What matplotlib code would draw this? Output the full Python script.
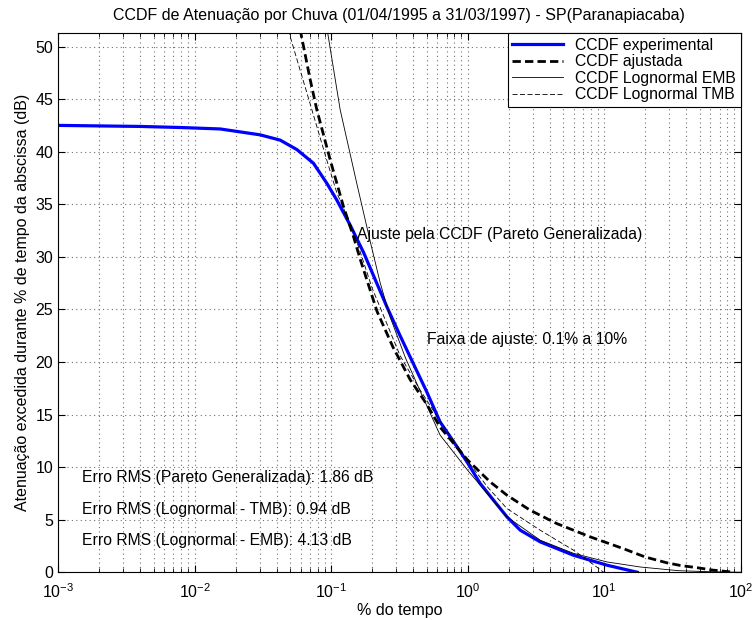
import matplotlib
matplotlib.use("Agg")
import matplotlib.pyplot as plt
from matplotlib.ticker import LogLocator, NullFormatter, MultipleLocator

plt.rcParams["font.family"] = ["Liberation Sans", "DejaVu Sans"]
plt.rcParams["mathtext.fontset"] = "custom"
plt.rcParams["mathtext.rm"] = "Liberation Sans"
plt.rcParams["font.size"] = 11.3

# CCDF experimental (% do tempo, dB)
exp_x = [0.001, 0.002, 0.004, 0.0078, 0.0154, 0.0302, 0.0423, 0.0561, 0.0742, 0.0929,
         0.110, 0.138, 0.173, 0.257, 0.32, 0.398, 0.5, 0.628, 0.8, 1.0,
         1.235, 1.546, 1.94, 2.43, 3.4, 5.96, 10.5, 17.5]
exp_y = [42.5, 42.45, 42.4, 42.3, 42.16, 41.6, 41.1, 40.2, 38.9, 37.0,
         35.4, 33.0, 30.4, 25.2, 22.5, 19.9, 17.2, 14.3, 12.3, 10.4,
         8.45, 6.86, 5.27, 4.0, 2.89, 1.62, 0.67, 0.0]

# CCDF ajustada (Pareto Generalizada)
fit_x = [0.0593, 0.0701, 0.0785, 0.0985, 0.123, 0.146, 0.163, 0.217, 0.284, 0.38,
         0.5, 0.628, 1.0, 1.46, 1.94, 2.87, 4.5, 7.89, 13.8, 20.0, 28.8, 36.0,
         50.0, 63.0, 90.0]
fit_y = [51.6, 46.9, 44.0, 39.2, 34.8, 31.9, 29.8, 24.8, 21.4, 18.3,
         16.0, 13.8, 10.67, 8.6, 7.33, 5.9, 4.63, 3.37, 2.25, 1.45, 0.9, 0.65,
         0.4, 0.2, 0.0]

# CCDF Lognormal EMB
emb_x = [0.0935, 0.1164, 0.154, 0.193, 0.229, 0.27, 0.35, 0.45, 0.628, 1.0,
         1.46, 1.94, 3.4, 5.96, 10.5, 18.4, 35.0, 60.0, 100.0]
emb_y = [51.6, 44.0, 37.0, 31.5, 27.5, 24.3, 20.4, 17.2, 13.05, 9.7,
         7.17, 5.27, 3.05, 1.8, 0.98, 0.5, 0.15, 0.05, 0.0]

# CCDF Lognormal TMB
tmb_x = [0.0484, 0.0722, 0.0929, 0.110, 0.145, 0.2, 0.32, 0.45, 0.628, 1.0,
         1.4, 1.94, 3.4, 5.96, 8.83, 9.9]
tmb_y = [51.6, 44.0, 39.2, 36.1, 32.5, 27.0, 20.6, 17.3, 14.4, 10.6,
         8.1, 6.06, 4.0, 2.1, 0.5, 0.0]

fig = plt.figure(figsize=(7.55, 6.2), dpi=100)
ax = fig.add_axes([0.077, 0.077, 0.904, 0.870])

ax.plot(exp_x, exp_y, color="#0000ff", lw=2.3, label="CCDF experimental")
ax.plot(fit_x, fit_y, color="black", lw=2.0, ls=(0, (3, 1.5)), label="CCDF ajustada")
ax.plot(emb_x, emb_y, color="black", lw=0.6, label="CCDF Lognormal EMB")
ax.plot(tmb_x, tmb_y, color="black", lw=0.6, ls=(0, (6, 3)), label="CCDF Lognormal TMB")

ax.set_xscale("log")
ax.set_xlim(1e-3, 1e2)
ax.set_ylim(0, 51.3)
ax.yaxis.set_major_locator(MultipleLocator(5))
ax.xaxis.set_major_locator(LogLocator(base=10, numticks=10))
ax.xaxis.set_minor_locator(LogLocator(base=10, subs=range(2, 10), numticks=50))
ax.xaxis.set_minor_formatter(NullFormatter())

ax.grid(True, which="major", ls=(0, (1, 3)), color="#707070", lw=0.8)
ax.grid(True, which="minor", axis="x", ls=(0, (1, 3)), color="#707070", lw=0.8)
ax.tick_params(which="both", direction="in", top=True, right=True, labelsize=11.5)
ax.tick_params(which="major", length=5)
ax.tick_params(which="minor", length=3)
ax.tick_params(axis="x", which="major", pad=7)

ax.set_title("CCDF de Atenuação por Chuva (01/04/1995 a 31/03/1997) - SP(Paranapiacaba)",
             fontsize=11.5, pad=9)
ax.set_xlabel("% do tempo", fontsize=11.5, labelpad=2)
ax.set_ylabel("Atenuação excedida durante % de tempo da abscissa (dB)", fontsize=11.5)

ax.text(0.155, 32.1, "Ajuste pela CCDF (Pareto Generalizada)", va="center")
ax.text(0.505, 22.1, "Faixa de ajuste: 0.1% a 10%", va="center")
ax.text(1.5e-3, 9.0, "Erro RMS (Pareto Generalizada): 1.86 dB", va="center")
ax.text(1.5e-3, 6.0, "Erro RMS (Lognormal - TMB): 0.94 dB", va="center")
ax.text(1.5e-3, 3.0, "Erro RMS (Lognormal - EMB): 4.13 dB", va="center")

leg = ax.legend(loc="upper right", fontsize=11.3, fancybox=False, framealpha=1,
                edgecolor="black", borderaxespad=0, handlelength=3.2,
                labelspacing=0.1, borderpad=0.3)
leg.get_frame().set_linewidth(0.8)

fig.savefig("out.png", dpi=100)
